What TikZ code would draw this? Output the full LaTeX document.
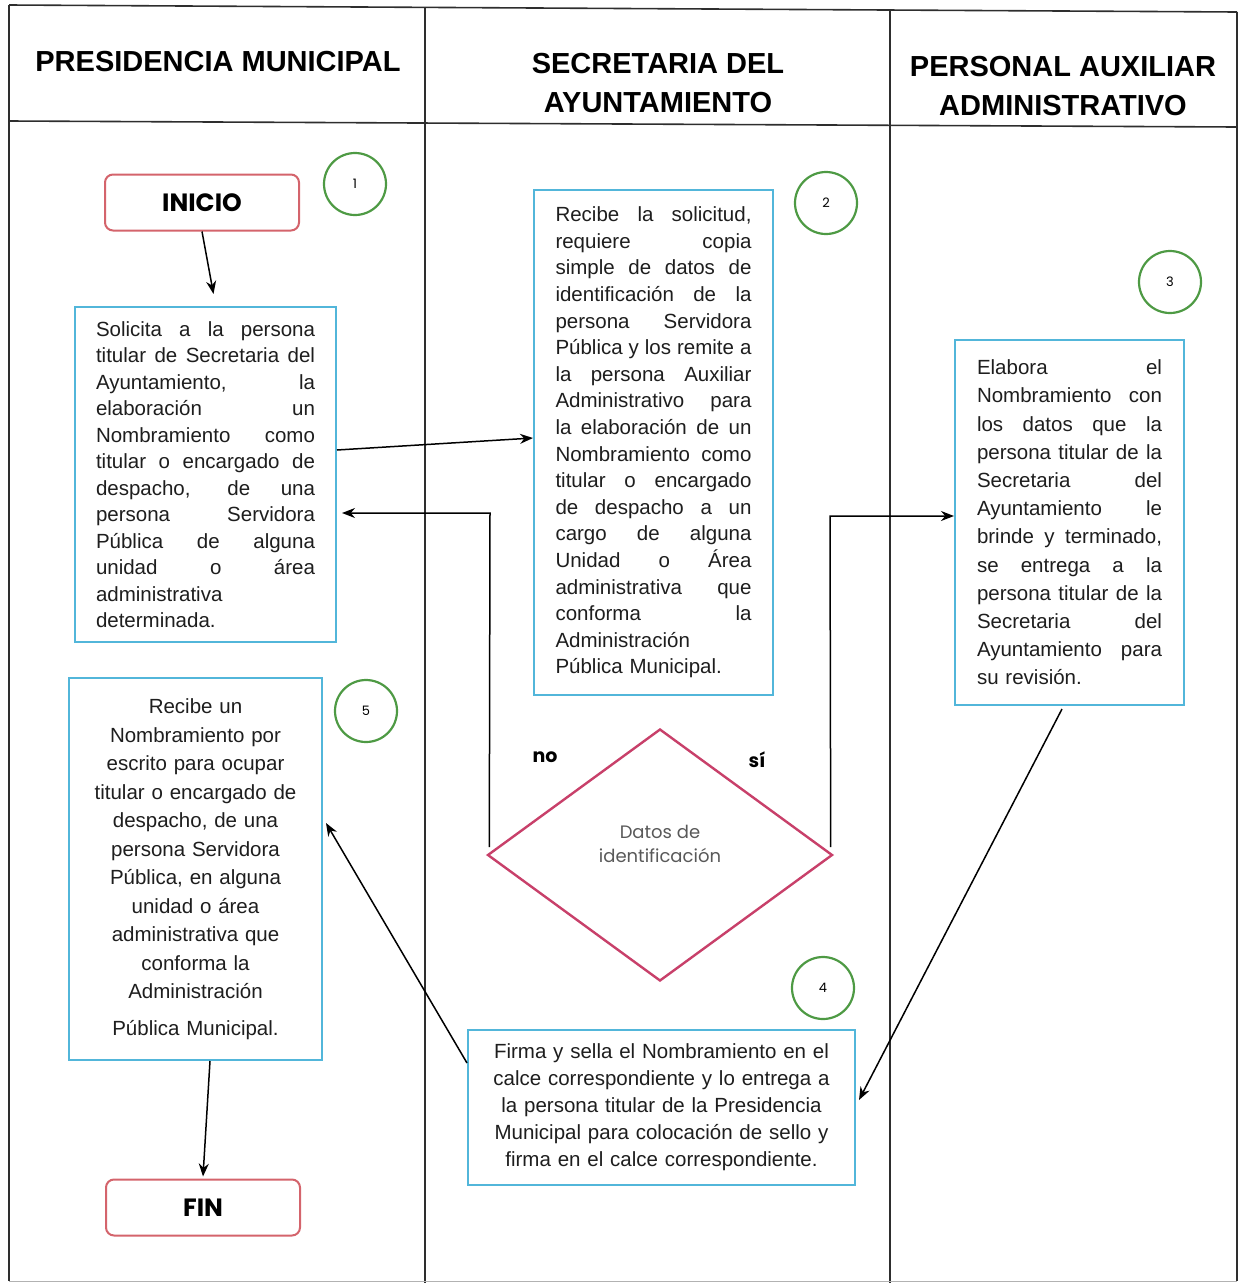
\documentclass[tikz,border=0pt]{standalone}
\usepackage{fontspec}
\setmainfont{Liberation Sans}
\newfontfamily\gothic{Poppins}
\usetikzlibrary{arrows.meta,shapes.geometric}

\definecolor{laneline}{HTML}{2E2E2E}
\definecolor{boxblue}{HTML}{52B6DA}
\definecolor{termred}{HTML}{D4646C}
\definecolor{stepgreen}{HTML}{4E9A44}
\definecolor{decisionred}{HTML}{C8406A}
\definecolor{inktext}{HTML}{1E1E1E}

% one justified line of a text box
\newcommand\jl[1]{\leavevmode\hbox to \hsize{\spaceskip=0.28em plus 4em\relax #1}}

\begin{document}
\begin{tikzpicture}[x=1pt,y=-1pt,
  lane/.style={draw=laneline,line width=1.6pt},
  header/.style={font=\fontsize{29}{39}\selectfont\bfseries,text=black,align=center},
  textbox/.style={draw=boxblue,line width=2pt,fill=white,inner sep=0pt,text=inktext},
  terminal/.style={draw=termred,line width=2pt,rounded corners=8pt,fill=white,
    minimum width=194pt,minimum height=56pt,inner sep=0pt,
    font=\gothic\fontsize{25}{30}\selectfont\bfseries},
  stepnum/.style={circle,draw=stepgreen,line width=2.2pt,fill=white,minimum size=62pt,
    inner sep=0pt,font=\gothic\fontsize{13}{15}\selectfont},
  decision/.style={diamond,draw=decisionred,line width=2.4pt,fill=white,
    minimum width=345pt,minimum height=252pt,inner sep=0pt,
    font=\gothic\fontsize{18}{24}\selectfont,text=black!65,align=center},
  branch/.style={font=\gothic\fontsize{19}{22}\selectfont\bfseries},
  arr/.style={draw=black,line width=1.5pt,-{Stealth[length=13pt,width=10pt]}}
]
\useasboundingbox (0,0) rectangle (1239,1283);

% swimlane frame
\coordinate (tl) at (9,5);
\coordinate (tr) at (1237,12);
\coordinate (hl) at (9,121);
\coordinate (hr) at (1237,127);
\coordinate (bl) at (9,1281);
\coordinate (br) at (1237,1281);
\draw[lane] (tl) -- (tr);
\draw[lane] (hl) -- (hr);
\draw[lane] (tl) -- (bl);
\draw[lane] (tr) -- (br);
\draw[lane] (425,7) -- (425,1283);
\draw[lane] (890,10) -- (890,1283);
\draw[draw=black!30,line width=1pt] (bl) -- (br);

% lane titles
\node[header] (h1) at (218,62) {PRESIDENCIA MUNICIPAL};
\node[header] (h2) at (658,83) {SECRETARIA DEL\\AYUNTAMIENTO};
\node[header] (h3) at (1063,86) {PERSONAL AUXILIAR\\ADMINISTRATIVO};

% terminals
\node[terminal] (inicio) at (202,202.5) {INICIO};
\node[terminal] (fin) at (203,1207.5) {FIN};

% step 1
\node[textbox,minimum width=261pt,minimum height=335pt,text width=219pt,align=left,
  font=\fontsize{20.5}{26.5}\selectfont] (b1) at (205.5,474.5) {%
\jl{Solicita a la persona}\\
\jl{titular de Secretaria del}\\
\jl{Ayuntamiento, la}\\
\jl{elaboración un}\\
\jl{Nombramiento como}\\
\jl{titular o encargado de}\\
\jl{despacho, de una}\\
\jl{persona Servidora}\\
\jl{Pública de alguna}\\
\jl{unidad o área}\\
administrativa\\
determinada.};

% step 2
\node[textbox,minimum width=239pt,minimum height=505pt,text width=196pt,align=left,
  font=\fontsize{20.5}{26.6}\selectfont] (b2) at (653.5,442.5) {%
\jl{Recibe la solicitud,}\\
\jl{requiere copia}\\
\jl{simple de datos de}\\
\jl{identificación de la}\\
\jl{persona Servidora}\\
\jl{Pública y los remite a}\\
\jl{la persona Auxiliar}\\
\jl{Administrativo para}\\
\jl{la elaboración de un}\\
\jl{Nombramiento como}\\
\jl{titular o encargado}\\
\jl{de despacho a un}\\
\jl{cargo de alguna}\\
\jl{Unidad o Área}\\
\jl{administrativa que}\\
\jl{conforma la}\\
Administración\\
Pública Municipal.};

% step 3
\node[textbox,minimum width=229pt,minimum height=365pt,text width=185pt,align=left,
  font=\fontsize{20.5}{28.2}\selectfont] (b3) at (1069.5,522.5) {%
\jl{Elabora el}\\
\jl{Nombramiento con}\\
\jl{los datos que la}\\
\jl{persona titular de la}\\
\jl{Secretaria del}\\
\jl{Ayuntamiento le}\\
\jl{brinde y terminado,}\\
\jl{se entrega a la}\\
\jl{persona titular de la}\\
\jl{Secretaria del}\\
\jl{Ayuntamiento para}\\
su revisión.};

% step 4
\node[textbox,minimum width=387pt,minimum height=155pt,text width=360pt,align=center,
  font=\fontsize{20.5}{27}\selectfont] (b4) at (661.5,1107.5) {%
Firma y sella el Nombramiento en el\\
calce correspondiente y lo entrega a\\
la persona titular de la Presidencia\\
Municipal para colocación de sello y\\
firma en el calce correspondiente.};

% step 5
\node[textbox,minimum width=253pt,minimum height=382pt,text width=230pt,align=center,
  font=\fontsize{20.5}{28.5}\selectfont] (b5) at (195.5,869) {%
Recibe un\\
Nombramiento por\\
escrito para ocupar\\
titular o encargado de\\
despacho, de una\\
persona Servidora\\
Pública, en alguna\\
unidad o área\\
administrativa que\\
conforma la\\
Administración\\[8pt]
Pública Municipal.};

% decision
\node[decision] (dec) at (660,855) {Datos de\\identificación\\[-2pt]};
\node[branch] (no) at (545,757) {no};
\node[branch] (si) at (757,760) {sí};

% step numbers
\node[stepnum] (n1) at (355,184) {1};
\node[stepnum] (n2) at (826,203) {2};
\node[stepnum] (n3) at (1170,282) {3};
\node[stepnum] (n4) at (823,988) {4};
\node[stepnum] (n5) at (366,711) {5};

% flow
\coordinate (nocorner) at (490,513);
\coordinate (sicorner) at (830,516);
\draw[arr] (inicio.south) -- ([xshift=8pt,yshift=12pt]b1.north);
\draw[arr] ([yshift=24.5pt]b1.east) -- ([yshift=4.5pt]b2.west);
\draw[arr] ([xshift=3pt,yshift=8pt]dec.west) -- (nocorner) -- ([xshift=5pt,yshift=-38.5pt]b1.east);
\draw[arr] ([xshift=-3pt,yshift=8pt]dec.east) -- (sicorner) -- ([yshift=6.5pt]b3.west);
\draw[arr] ([xshift=-7.5pt,yshift=-3pt]b3.south) -- ([xshift=3pt,yshift=7.5pt]b4.east);
\draw[arr] ([yshift=44.5pt]b4.west) -- ([xshift=3pt,yshift=46pt]b5.east);
\draw[arr] ([xshift=14.5pt]b5.south) -- ([yshift=2pt]fin.north);
\end{tikzpicture}
\end{document}
